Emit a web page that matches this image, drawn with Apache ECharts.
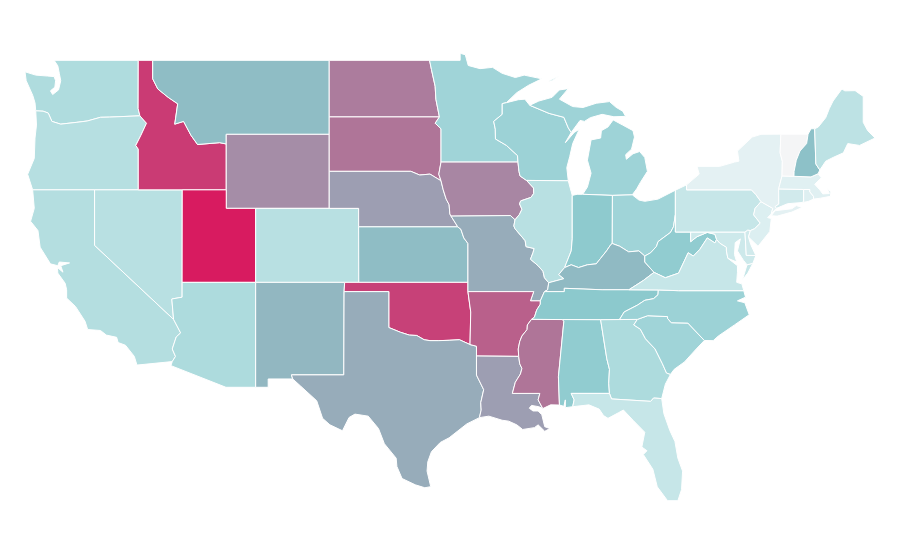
<!DOCTYPE html>
<html>
<head>
<meta charset="utf-8">
<title>US states</title>
<script src="https://cdn.jsdelivr.net/npm/echarts@6/dist/echarts.min.js"></script>
<style>html,body{margin:0;background:#fff}#chart{width:900px;height:560px}</style>
</head>
<body>
<div id="chart"></div>
<script>
// values (0 = palest, 50 = teal, 100 = crimson)
var westStates = ['Washington','Oregon','California','Nevada','Idaho','Montana','Wyoming','Utah','Colorado','Arizona','New Mexico'];
var westValues = [33,30,31,29,91,53,67,100,29,34,55];
var plainsStates = ['North Dakota','South Dakota','Nebraska','Kansas','Oklahoma','Texas','Minnesota','Iowa','Missouri','Arkansas','Louisiana'];
var plainsValues = [72,74,62,53,89,58,40,69,58,80,62];
var midStates = ['Wisconsin','Illinois','Michigan','Indiana','Ohio','Kentucky','Tennessee','Mississippi','Alabama','West Virginia'];
var midValues = [42,29,41,48,40,54,49,74,47,47];
var eastStates = ['Georgia','Florida','South Carolina','North Carolina','Virginia','Maryland','Delaware','Pennsylvania','New Jersey','New York','Connecticut','Rhode Island','Massachusetts','Vermont','New Hampshire','Maine'];
var eastValues = [34,23,40,42,23,20,18,23,12,8,18,11,10,0,52,27];

// shared borders, lon/lat
var mnWi = [[-92.01,46.71],[-92.29,46.66],[-92.29,46.08],[-92.87,45.7],[-92.76,45.28],[-92.75,44.75],[-92,44.4],[-91.25,43.85],[-91.22,43.5]];
var iaWi = [[-91.22,43.5],[-91.15,43],[-91.08,42.75],[-90.64,42.51]];
var iaIl = [[-90.64,42.51],[-90.16,42.1],[-90.15,41.8],[-90.34,41.59],[-91.04,41.4],[-91.11,41.24],[-90.95,40.95],[-91.12,40.67],[-91.42,40.38]];
var moIl = [[-91.42,40.38],[-91.5,40.05],[-91.42,39.9],[-90.73,39.25],[-90.67,38.93],[-90.12,38.83],[-90.2,38.6],[-90.37,38.25],[-89.85,37.9],[-89.52,37.6],[-89.42,37.25],[-89.13,36.98]];
var moKy = [[-89.13,36.98],[-89.2,36.6],[-89.42,36.5]];
var arTn = [[-89.7,36],[-89.7,35.82],[-89.95,35.5],[-90.1,35.12],[-90.3,35]];
var arMs = [[-90.3,35],[-90.58,34.7],[-90.6,34.45],[-90.95,34.1],[-91.1,33.8],[-91.2,33.4],[-91.17,33]];
var laMs = [[-91.17,33],[-91.1,32.6],[-90.95,32.35],[-91.05,32.05],[-91.4,31.6],[-91.6,31],[-89.73,31],[-89.85,30.65],[-89.53,30.18]];
var laTx = [[-93.84,29.69],[-93.72,30.1],[-93.75,30.5],[-93.55,31.2],[-94.04,31.99],[-94.04,33.02]];
var redRiver = [[-100,34.56],[-99.2,34.3],[-98.6,34.15],[-98.1,34.13],[-97.6,33.9],[-97.2,33.85],[-96.6,33.85],[-95.9,33.87],[-95.2,33.9],[-94.48,33.64]];
var moKs = [[-95.31,40],[-95.1,39.87],[-94.9,39.4],[-94.62,39.1]];
var neIa = [[-96.45,42.49],[-96.3,42],[-96.1,41.5],[-95.9,41.2],[-95.85,40.7],[-95.77,40.58]];
var sdNe = [[-96.45,42.49],[-97.2,42.85],[-97.9,42.8],[-98.5,43]];
var ndMn = [[-97.23,49],[-97.1,48.5],[-96.85,47.6],[-96.8,46.9],[-96.56,45.94]];
var sdMn = [[-96.56,45.94],[-96.85,45.6],[-96.45,45.3],[-96.45,43.5]];
var wiUp = [[-90.42,46.57],[-89.1,46.13],[-88.1,45.92],[-87.8,45.35],[-87.6,45.1]];
var ohioIn = [[-84.81,39.1],[-84.9,39.05],[-85.2,38.7],[-85.6,38.3],[-85.9,38],[-86.5,37.95],[-87.1,37.8],[-87.6,37.95],[-88.05,37.8]];
var wabash = [[-88.05,37.8],[-87.95,38],[-87.6,38.7],[-87.53,39.35],[-87.53,41.7]];
var ohioKyIl = [[-88.05,37.8],[-88.45,37.42],[-88.1,37.2],[-89.13,36.98]];
var ohioOh = [[-84.81,39.1],[-84.3,38.95],[-83.7,38.65],[-83,38.7],[-82.6,38.42]];
var ohioWv = [[-82.6,38.42],[-82.2,38.6],[-81.8,38.95],[-81.7,39.2],[-80.85,39.7],[-80.65,40],[-80.52,40.64]];
var kyWv = [[-82.6,38.42],[-82.6,38.1],[-81.97,37.54]];
var kyVa = [[-81.97,37.54],[-82.7,37.1],[-83.68,36.6]];
var tnKy = [[-83.68,36.6],[-85.5,36.6],[-88.07,36.68],[-88.07,36.5],[-89.42,36.5]];
var tnNc = [[-81.68,36.59],[-81.7,36.33],[-82,36.12],[-82.6,36.03],[-83.1,35.77],[-84,35.4],[-84.32,34.99]];
var vaWv = [[-77.83,39.13],[-78.35,39.4],[-78.87,38.77],[-79.3,38.42],[-79.65,38.6],[-80.3,37.5],[-81.2,37.25],[-81.97,37.54]];
var mdWv = [[-79.48,39.72],[-79.48,39.2],[-79.05,39.47],[-78.35,39.7],[-77.83,39.6],[-77.72,39.32],[-77.83,39.13]];
var alGa = [[-85.6,34.98],[-85.18,32.87],[-85,32.3],[-85.05,31.55],[-85,31]];
var alMs = [[-88.2,34.99],[-88.1,34.9],[-88.47,31.9],[-88.4,30.37]];
var gaSc = [[-83.1,35],[-83.35,34.7],[-82.9,34.47],[-82.55,33.95],[-81.9,33.4],[-81.4,32.6],[-81.12,32.1],[-80.85,32.03]];
var ncSc = [[-83.1,35],[-82.4,35.2],[-81.05,35.15],[-81.05,35.05],[-80.8,34.82],[-79.67,34.8],[-78.55,33.86]];
var flGa = [[-85,31],[-84.86,30.7],[-82.2,30.57],[-82,30.75],[-81.45,30.72]];
var vaPot = [[-76.3,37.9],[-76.95,38.3],[-77.05,38.7],[-77.05,38.9],[-77.5,39.12],[-77.72,39.32]];
var paNj = [[-74.7,41.36],[-75.1,41],[-75.2,40.65],[-74.75,40.2],[-75.13,39.9],[-75.42,39.8]];
var nyNj = [[-74,40.7],[-73.9,41],[-74.7,41.36]];
var vtNy = [[-73.35,45.01],[-73.4,44],[-73.25,43.55],[-73.27,42.75]];
var vtNh = [[-71.5,45.01],[-71.6,44.5],[-72.05,44.1],[-72.3,43.6],[-72.45,43],[-72.46,42.73]];
var nhMe = [[-71.05,45.3],[-70.97,43.4],[-70.7,43.07]];
var waOr = [[-124,46.27],[-123.5,46.25],[-123.15,46.15],[-122.9,45.7],[-122.3,45.55],[-121.2,45.65],[-120.5,45.72],[-119.6,45.92],[-119,45.93],[-116.92,46]];
var orId = [[-116.92,46],[-116.47,45.6],[-116.85,44.95],[-117.2,44.4],[-117.03,44.2],[-117.03,42]];
var idMt = [[-116.05,49],[-116.05,48],[-115.7,47.45],[-115,47],[-114.35,46.65],[-114.55,45.55],[-113.95,45.7],[-113.45,44.95],[-113,44.45],[-111.5,44.55],[-111.05,44.48]];
var azCa = [[-114.63,35],[-114.15,34.27],[-114.45,34.05],[-114.72,33.4],[-114.5,33],[-114.72,32.72]];
var rev = function (a) { return a.slice().reverse(); };
var ring = function () { return [[].concat.apply([], arguments)]; };

var shapes = {
  'Washington': [ring([[-117.03,49],[-122.75,49],[-122.5,48.7],[-122.4,48.3],[-122.3,47.9],[-122.45,47.4],[-122.85,47.15],[-123,47.35],[-122.7,47.55],[-122.65,47.9],[-122.75,48.12],[-123.2,48.15],[-124,48.2],[-124.73,48.38],[-124.65,47.9],[-124.2,47.1],[-124.05,46.7]],waOr,[[-117.04,46.4]])],
  'Oregon': [ring(waOr,orId,[[-124.21,42],[-124.55,42.84],[-124.1,43.7],[-124.05,44.8],[-123.95,45.5]])],
  'California': [ring([[-124.21,42],[-120,42],[-120,39]],azCa,[[-117.12,32.53],[-117.3,33],[-117.9,33.6],[-118.4,33.75],[-118.5,34.03],[-119.2,34.15],[-119.6,34.4],[-120.47,34.45],[-120.65,34.9],[-121.3,35.7],[-121.9,36.15],[-121.9,36.6],[-122,36.95],[-122.5,37.5],[-122.52,37.8],[-122.15,37.55],[-122.3,37.9],[-121.7,38.05],[-122.4,38.1],[-122.5,37.9],[-123,38],[-123.7,38.9],[-123.85,39.8],[-124.35,40.3],[-124.1,41]])],
  'Nevada': [ring([[-120,42],[-114.04,42],[-114.05,36.2],[-114.75,36.1],[-114.63,35],[-120,39]])],
  'Idaho': [ring([[-117.03,49]],idMt,[[-111.05,42],[-117.03,42]],rev(orId),[[-117.04,46.4]])],
  'Montana': [ring([[-116.05,49],[-104.05,49],[-104.05,45],[-111.05,45]],rev(idMt))],
  'Wyoming': [ring([[-111.05,45],[-104.05,45],[-104.05,41],[-111.05,41]])],
  'Utah': [ring([[-114.04,42],[-111.05,42],[-111.05,41],[-109.05,41],[-109.05,37],[-114.05,37]])],
  'Colorado': [ring([[-109.05,41],[-102.05,41],[-102.04,37],[-109.05,37]])],
  'Arizona': [ring([[-114.05,37],[-109.05,37],[-109.05,31.33],[-111.07,31.33],[-114.81,32.5]],rev(azCa),[[-114.75,36.1],[-114.05,36.2]])],
  'New Mexico': [ring([[-109.05,37],[-103,37],[-103.04,36.5],[-103.06,32],[-106.62,32],[-106.53,31.78],[-108.2,31.78],[-108.2,31.33],[-109.05,31.33]])],
  'North Dakota': [ring([[-104.05,49]],ndMn,[[-104.05,45.94]])],
  'South Dakota': [ring([[-104.05,45.94]],sdMn,[[-96.6,42.85]],sdNe,[[-104.05,43]])],
  'Nebraska': [ring([[-104.05,43]],rev(sdNe),neIa,[[-95.31,40],[-102.05,40],[-102.05,41],[-104.05,41]])],
  'Kansas': [ring([[-102.05,40]],moKs,[[-94.62,37],[-102.04,37]])],
  'Oklahoma': [ring([[-103,37],[-94.62,37],[-94.62,36.5],[-94.43,35.4]],rev(redRiver),[[-100,36.5],[-103.04,36.5]])],
  'Texas': [ring([[-103.04,36.5],[-100,36.5]],redRiver,[[-94.04,33.55]],rev(laTx),[[-94.7,29.35],[-95.1,29.1],[-95.9,28.6],[-96.5,28.35],[-97.1,27.85],[-97.35,27.3],[-97.4,26.8],[-97.15,25.96],[-97.55,25.9],[-98.2,26.06],[-99.1,26.4],[-99.45,27.05],[-99.5,27.5],[-100.3,28.28],[-100.7,29.1],[-101.4,29.77],[-102.3,29.88],[-102.7,29.7],[-103.15,28.98],[-104,29.3],[-104.5,29.65],[-104.9,30.6],[-106,31.4],[-106.53,31.78],[-106.62,32],[-103.06,32]])],
  'Minnesota': [ring([[-97.23,49],[-95.15,49],[-95.15,49.38],[-94.8,49.3],[-94.6,48.72],[-93.8,48.55],[-92.95,48.62],[-92.3,48.3],[-91.4,48.07],[-90.8,48.2],[-89.6,48],[-90.5,47.65],[-91.3,47.25]],mnWi,rev(sdMn),rev(ndMn))],
  'Iowa': [ring([[-96.45,43.5]],iaWi,iaIl,[[-91.73,40.61]],rev(neIa),[[-96.6,42.85]])],
  'Missouri': [ring([[-95.77,40.58],[-91.73,40.61]],moIl,moKy,[[-89.7,36],[-90.37,36],[-90.15,36.5],[-94.62,36.5]],rev(moKs))],
  'Arkansas': [ring([[-94.62,36.5],[-90.15,36.5],[-90.37,36]],arTn,arMs,[[-94.04,33.02],[-94.04,33.55],[-94.48,33.64],[-94.43,35.4]])],
  'Louisiana': [ring([[-94.04,33.02]],laMs,[[-89.8,30.28],[-90.3,30.35],[-90.45,30.2],[-90.2,30.05],[-89.85,30.05],[-89.6,29.85],[-89.4,29.2],[-89.05,29.1],[-89.4,28.95],[-89.85,29.3],[-90.1,29.15],[-90.9,29.05],[-91.3,29.3],[-91.85,29.5],[-92.3,29.55],[-93.2,29.77]],laTx)],
  'Wisconsin': [ring([[-92.01,46.71],[-91.2,46.87],[-90.75,46.9]],wiUp,[[-88,44.55],[-87.4,45.1],[-87.05,45.28],[-87.5,44.5],[-87.7,43.8],[-87.9,43.2],[-87.8,42.49],[-90.64,42.51]],rev(iaWi),rev(mnWi))],
  'Illinois': [ring([[-90.64,42.51],[-87.8,42.49],[-87.6,41.9]],rev(wabash),ohioKyIl,rev(moIl),rev(iaIl))],
  'Michigan': [
    ring([[-90.42,46.57],[-89.8,46.8],[-88.9,47],[-88.4,47.4],[-87.8,47.47],[-88.4,46.9],[-87.5,46.5],[-86.8,46.45],[-85.9,46.68],[-85,46.77],[-84.55,46.46],[-84.1,46.25],[-83.9,45.97],[-84.7,45.95],[-85.5,46.08],[-86.3,45.9],[-86.7,45.7],[-87,45.75]],rev(wiUp)),
    ring([[-84.75,45.78],[-84.1,45.5],[-83.4,45.2],[-83.3,44.85],[-83.5,44.2],[-83.9,43.9],[-83.85,43.65],[-83.4,43.95],[-82.95,44.07],[-82.6,43.75],[-82.42,43],[-82.9,42.4],[-83.15,42.05],[-83.45,41.73],[-84.8,41.7],[-86.82,41.76],[-86.5,42.15],[-86.25,42.9],[-86.5,43.6],[-86.25,44.7],[-85.6,44.8],[-85.55,45.2],[-85.1,45.4]]),
    ring([[-89.2,47.85],[-88.45,48.15],[-88.9,47.9]])
  ],
  'Indiana': [ring([[-87.53,41.7],[-87.2,41.76],[-86.82,41.76],[-84.8,41.7]],ohioIn,wabash)],
  'Ohio': [ring([[-84.8,41.7],[-83.45,41.73],[-83,41.45],[-82.6,41.38],[-81.7,41.5],[-80.52,41.98]],rev(ohioWv),rev(ohioOh))],
  'Kentucky': [ring(ohioOh,kyWv,kyVa,tnKy,rev(moKy),rev(ohioKyIl),rev(ohioIn))],
  'Tennessee': [ring(rev(tnKy),[[-81.68,36.59]],tnNc,[[-85.6,34.98],[-88.2,34.99]],rev(arTn))],
  'Mississippi': [ring([[-90.3,35]],alMs,[[-89,30.38]],rev(laMs),rev(arMs))],
  'Alabama': [ring(alGa,[[-87.6,31],[-87.4,30.65],[-87.5,30.28],[-88,30.23],[-88,30.65],[-88.1,30.3]],rev(alMs))],
  'Georgia': [ring(alGa,flGa,[[-81.2,31.5]],rev(gaSc))],
  'Florida': [ring([[-87.6,31]],flGa,[[-81.3,29.9],[-80.9,29],[-80.55,28.4],[-80.35,27.5],[-80.03,26.8],[-80.1,25.8],[-80.35,25.2],[-81.05,25.2],[-81.75,25.95],[-82.05,26.9],[-82.7,27.7],[-82.45,27.9],[-82.8,28.1],[-82.6,28.9],[-83.4,29.55],[-84.05,30.1],[-84.4,29.95],[-85.1,29.65],[-85.4,29.8],[-85.7,30.15],[-86.4,30.38],[-87.5,30.28],[-87.4,30.65]])],
  'South Carolina': [ring(ncSc,[[-79.1,33.4],[-79.9,32.7],[-80.6,32.3]],rev(gaSc))],
  'North Carolina': [ring(rev(tnNc),[[-80.3,36.55],[-75.87,36.55],[-75.75,36.2],[-76.3,36],[-75.8,35.9],[-75.5,35.25],[-76.5,34.7],[-77.6,34.1],[-77.95,33.85]],rev(ncSc),[[-84.32,34.99]])],
  'Virginia': [
    ring([[-83.68,36.6],[-81.68,36.59],[-80.3,36.55],[-75.87,36.55],[-76,36.92],[-76.35,37],[-76.3,37.55]],vaPot,vaWv,kyVa),
    ring([[-75.95,37.15],[-75.65,37.95],[-75.25,38.03],[-75.6,37.5]])
  ],
  'West Virginia': [ring([[-80.52,40.64],[-80.52,39.72]],mdWv,vaWv.slice(1),rev(kyWv),ohioWv)],
  'Maryland': [ring(mdWv.slice(0,1),[[-75.79,39.72],[-75.7,38.46],[-75.05,38.45],[-75.25,38.03],[-75.65,37.95],[-75.9,38.2],[-76.3,38.7],[-76.1,39.35],[-76.45,39.15],[-76.5,38.5],[-76.35,38.1]],vaPot.slice(1),rev(mdWv).slice(1))],
  'Delaware': [ring([[-75.79,39.72],[-75.6,39.83],[-75.42,39.8],[-75.55,39.45],[-75.4,39.05],[-75.05,38.45],[-75.7,38.46]])],
  'Pennsylvania': [ring([[-80.52,41.98],[-79.76,42.27],[-79.76,42],[-75.35,42],[-75.05,41.75]],paNj,[[-75.6,39.83],[-75.79,39.72],[-80.52,39.72]])],
  'New Jersey': [ring(rev(nyNj),[[-74.25,40.5],[-74,40.45],[-74.1,39.75],[-74.9,38.95],[-75.55,39.45]],rev(paNj))],
  'New York': [
    ring([[-79.76,42.27],[-78.9,42.85],[-79.05,43.27],[-77.5,43.27],[-76.5,43.5],[-76.2,43.55],[-76.3,44.1],[-75.3,44.85],[-74.7,45]],vtNy,[[-73.5,42.05],[-73.49,41.23],[-73.73,41.1],[-73.65,41]],nyNj,[[-75.05,41.75],[-75.35,42],[-79.76,42]]),
    ring([[-74,40.6],[-73.75,40.87],[-72.6,40.98],[-72.3,41.15],[-71.9,41.05],[-72.6,40.8],[-73.6,40.58]])
  ],
  'Connecticut': [ring([[-73.5,42.05],[-71.8,42.02],[-71.8,41.4],[-71.86,41.32],[-72.9,41.25],[-73.65,41],[-73.73,41.1],[-73.49,41.23]])],
  'Rhode Island': [ring([[-71.8,42.02],[-71.38,42.02],[-71.38,41.89],[-71.13,41.65],[-71.12,41.5],[-71.5,41.37],[-71.86,41.32],[-71.8,41.4]])],
  'Massachusetts': [ring([[-73.5,42.05],[-73.27,42.75],[-72.46,42.73],[-71.3,42.7],[-70.82,42.87],[-70.6,42.65],[-71.05,42.3],[-70.7,42],[-70.5,41.78],[-70.05,41.8],[-70.2,42.07],[-69.95,41.9],[-69.98,41.65],[-70.65,41.55],[-71.12,41.5],[-71.13,41.65],[-71.38,41.89],[-71.38,42.02],[-71.8,42.02]])],
  'Vermont': [ring(vtNy,rev(vtNh))],
  'New Hampshire': [ring(vtNh.slice(0,1),[[-71.3,45.3]],nhMe,[[-70.82,42.87],[-71.3,42.7]],rev(vtNh))],
  'Maine': [ring(nhMe,[[-70.3,43.55],[-69.8,43.75],[-69.1,44],[-68.8,44.5],[-68,44.4],[-66.95,44.8],[-67.45,45.2],[-67.75,45.65],[-67.75,47.05],[-68.3,47.36],[-69,47.35],[-69.2,47.45],[-69.8,46.8],[-70.05,46.4],[-70.3,45.9],[-70.8,45.4]])]
};

var names = westStates.concat(plainsStates, midStates, eastStates);
var values = westValues.concat(plainsValues, midValues, eastValues);

var features = names.map(function (name) {
  return { type: 'Feature', properties: { name: name }, geometry: { type: 'MultiPolygon', coordinates: shapes[name] } };
});
echarts.registerMap('USA', { type: 'FeatureCollection', features: features });

var myChart = echarts.init(document.getElementById('chart'));
var option = {
  backgroundColor: '#fff',
  animation: false,
  visualMap: {
    show: false,
    min: 0,
    max: 100,
    inRange: { color: ['#f4f5f6', '#e0f0f2', '#cde9eb', '#b6dfe1', '#a0d4d8', '#8ac8cc', '#9aa5b6', '#a983a1', '#b9608b', '#c83e76', '#d81b60'] }
  },
  series: [{
    type: 'map',
    map: 'USA',
    roam: false,
    silent: true,
    aspectScale: 0.795,
    layoutCenter: ['50%', 277],
    layoutSize: 850,
    label: { show: false },
    itemStyle: { borderColor: '#fff', borderWidth: 1 },
    data: names.map(function (n, i) { return { name: n, value: values[i] }; })
  }]
};
myChart.setOption(option);
</script>
</body>
</html>
